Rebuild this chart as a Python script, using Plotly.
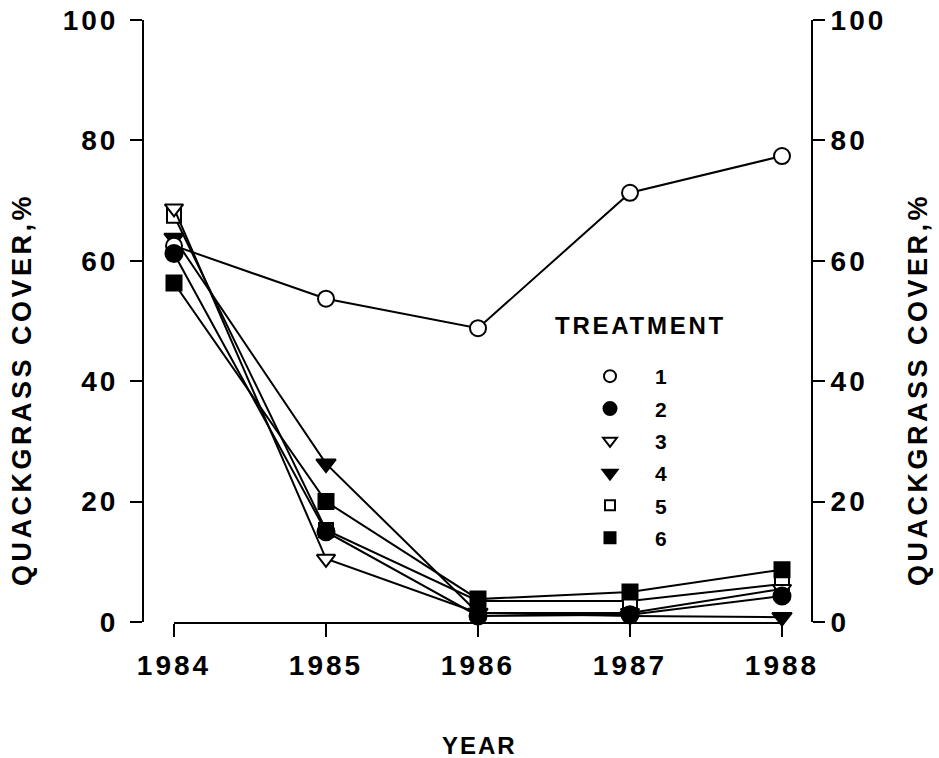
import plotly.graph_objects as go

years = [1984, 1985, 1986, 1987, 1988]
treatments = ["1", "2", "3", "4", "5", "6"]
t1 = [62.5, 53.7, 48.8, 71.3, 77.4]
t2 = [61.2, 15.0, 1.0, 1.2, 4.3]
t3 = [68.7, 10.5, 1.5, 1.5, 5.5]
t4 = [63.8, 26.3, 1.5, 1.0, 0.8]
t5 = [67.5, 15.3, 3.5, 3.5, 6.3]
t6 = [56.3, 20.0, 3.8, 5.0, 8.7]
y_ticks = [0, 20, 40, 60, 80, 100]

series = {"1": t1, "2": t2, "3": t3, "4": t4, "5": t5, "6": t6}
styles = {
    "1": dict(symbol="circle", size=16, color="white", lsize=12),
    "2": dict(symbol="circle", size=17, color="black", lsize=13),
    "3": dict(symbol="triangle-down", size=16, color="white", lsize=12),
    "4": dict(symbol="triangle-down", size=17, color="black", lsize=13),
    "5": dict(symbol="square", size=14, color="white", lsize=10),
    "6": dict(symbol="square", size=15, color="black", lsize=11),
}
draw_order = ["4", "1", "5", "3", "2", "6"]

W, H = 939, 758
FONT = "Liberation Sans"


def spaced(txt, ls):
    return '<span style="letter-spacing:%spx">%s</span>' % (ls, txt)


def bold(txt, ls):
    return "<b>" + spaced(txt, ls) + "</b>"


fig = go.Figure()
for k in draw_order:
    s = styles[k]
    fig.add_trace(go.Scatter(
        x=years, y=series[k], mode="lines+markers", showlegend=False,
        cliponaxis=False,
        line=dict(color="black", width=2),
        marker=dict(symbol=s["symbol"], size=s["size"], color=s["color"],
                    line=dict(color="black", width=2)),
    ))
for k in treatments:
    s = styles[k]
    fig.add_trace(go.Scatter(
        x=[None], y=[None], mode="markers", name=bold(k, 0), legendgroup=k,
        marker=dict(symbol=s["symbol"], size=s["lsize"], color=s["color"],
                    line=dict(color="black", width=2)),
    ))


def px(v):
    return v / W


def py(v):
    return (622 - v) / 602


axis_common = dict(showgrid=False, zeroline=False, showline=True,
                   linecolor="black", linewidth=2, ticks="outside",
                   tickcolor="black", tickwidth=2, ticklabeloverflow="allow",
                   tickfont=dict(family=FONT, size=28, color="black"))

fig.update_layout(
    width=W, height=H,
    margin=dict(l=0, r=0, t=20, b=758 - 622, autoexpand=False),
    paper_bgcolor="white", plot_bgcolor="white",
    font=dict(family=FONT, color="black"),
    xaxis=dict(domain=[px(174), px(782)], range=[1984, 1988],
               tickvals=years, ticktext=[bold(str(v), 3) for v in years],
               ticklen=13, ticklabelstandoff=4, automargin=False, **axis_common),
    yaxis=dict(anchor="free", position=px(143), range=[0, 100],
               tickvals=y_ticks, ticktext=[bold(str(v), 3) for v in y_ticks],
               ticklen=12, ticklabelstandoff=6, automargin=False, **axis_common),
    yaxis2=dict(anchor="free", position=px(812), overlaying="y", side="right",
                range=[0, 100], tickvals=y_ticks,
                ticktext=[bold(str(v), 3) for v in y_ticks], ticklen=12,
                ticklabelstandoff=0, automargin=False, **axis_common),
    showlegend=True,
    legend=dict(x=px(565), y=py(356), xanchor="left", yanchor="top",
                font=dict(family=FONT, size=21, color="black"),
                itemsizing="trace", tracegroupgap=2, itemwidth=80,
                bgcolor="rgba(0,0,0,0)"),
    annotations=[
        dict(text=bold("TREATMENT", 2.75), x=px(640), y=py(325), xref="paper",
             yref="paper", xanchor="center", yanchor="middle", showarrow=False,
             font=dict(family=FONT, size=24)),
        dict(text=bold("QUACKGRASS COVER,%", 3.5), x=px(22), y=py(390),
             xref="paper", yref="paper", xanchor="center", yanchor="middle",
             textangle=-90, showarrow=False, font=dict(family=FONT, size=27)),
        dict(text=bold("QUACKGRASS COVER,%", 3.5), x=px(918), y=py(390),
             xref="paper", yref="paper", xanchor="center", yanchor="middle",
             textangle=-90, showarrow=False, font=dict(family=FONT, size=27)),
        dict(text=bold("YEAR", 2), x=px(479), y=py(745), xref="paper",
             yref="paper", xanchor="center", yanchor="middle", showarrow=False,
             font=dict(family=FONT, size=24)),
    ],
)
fig.add_trace(go.Scatter(x=[None], y=[None], yaxis="y2", showlegend=False))

fig.write_html(
    "out.html",
    config={"displayModeBar": False},
    post_script="document.body.style.margin='0';"
                "document.body.style.overflow='hidden';",
)
